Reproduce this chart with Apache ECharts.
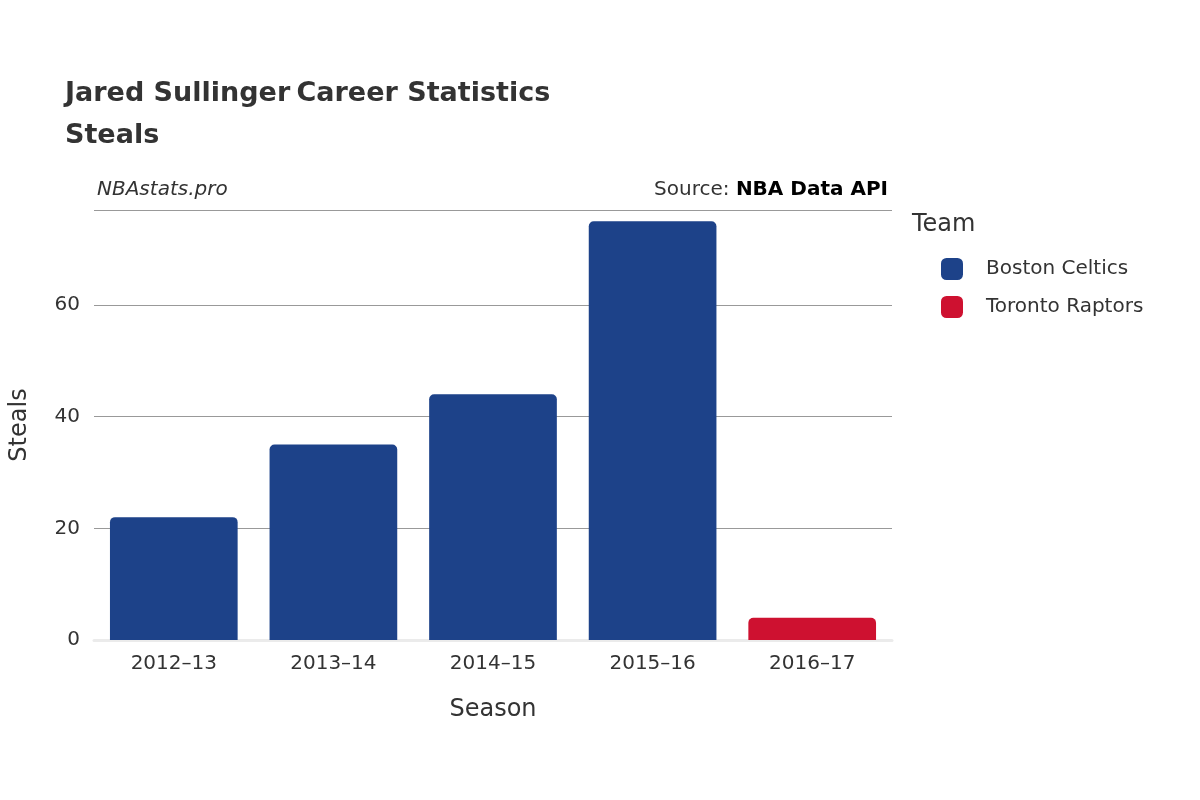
<!DOCTYPE html>
<html>
<head>
<meta charset="utf-8">
<script src="https://cdn.jsdelivr.net/npm/echarts@6/dist/echarts.min.js"></script>
<style>html,body{margin:0;padding:0;background:#fff}#chart{width:1200px;height:800px}</style>
</head>
<body>
<div id="chart"></div>
<script>
const seasons = ['2012–13', '2013–14', '2014–15', '2015–16', '2016–17']
const celtics = [22, 35, 44, 75, '-']
const raptors = ['-', '-', '-', '-', 4]
const yTicks = [0, 20, 40, 60]

const font = 'DejaVu Sans'
const txt = '#333333'

const chart = echarts.init(document.getElementById('chart'))
const option = {
  animation: false,
  textStyle: { fontFamily: font },
  title: {
    left: 60,
    top: 68,
    text: '{b|Jared Sullinger} {n|Career Statistics}\n{n|Steals}',
    textStyle: {
      rich: {
        b: { fontFamily: font, fontSize: 27, fontWeight: 'bold', color: txt, lineHeight: 42 },
        n: { fontFamily: font, fontSize: 27, color: txt, lineHeight: 42 }
      }
    }
  },
  graphic: [
    { type: 'text', left: 97, top: 180, style: { text: 'NBAstats.pro', font: 'italic 20px DejaVu Sans', fill: txt } },
    { type: 'text', right: 312, top: 180, style: { text: '{a|Source: }{b|NBA Data API}', rich: { a: { fontFamily: font, fontSize: 20, fill: txt, color: txt }, b: { fontFamily: font, fontSize: 20, fontWeight: 'bold', color: txt } } } },
    { type: 'text', left: 912, top: 213, style: { text: 'Team', font: '24px DejaVu Sans', fill: txt } }
  ],
  legend: {
    orient: 'vertical',
    left: 936,
    top: 253,
    itemWidth: 22,
    itemHeight: 22,
    itemGap: 16,
    icon: 'roundRect',
    textStyle: { fontFamily: font, fontSize: 20, color: txt, padding: [0, 0, 0, 18] },
    data: ['Boston Celtics', 'Toronto Raptors']
  },
  grid: { left: 92, right: 308, top: 210, bottom: 160 },
  xAxis: {
    type: 'category',
    data: seasons,
    name: 'Season',
    nameLocation: 'middle',
    nameGap: 58,
    nameTextStyle: { fontSize: 24, color: txt },
    axisLine: { show: true, lineStyle: { color: '#ebebeb', width: 3 } },
    axisTick: { show: false },
    axisLabel: { fontSize: 20, color: txt, margin: 14 }
  },
  yAxis: {
    type: 'value',
    min: 0,
    max: 77,
    interval: 20,
    name: 'Steals',
    nameLocation: 'middle',
    nameGap: 62,
    nameTextStyle: { fontSize: 24, color: txt },
    axisLine: { show: false },
    axisTick: { show: false },
    axisLabel: {
      fontSize: 20,
      color: txt,
      margin: 14,
      formatter: v => (yTicks.includes(v) ? String(v) : '')
    },
    splitLine: { lineStyle: { color: '#999999', width: 1 } }
  },
  series: [
    {
      name: 'Boston Celtics',
      type: 'bar',
      stack: 's',
      barWidth: '80%',
      itemStyle: { color: '#1d4289', borderRadius: [5, 5, 0, 0] },
      data: celtics
    },
    {
      name: 'Toronto Raptors',
      type: 'bar',
      stack: 's',
      barWidth: '80%',
      itemStyle: { color: '#ce1130', borderRadius: [5, 5, 0, 0] },
      data: raptors
    }
  ]
}
chart.setOption(option, true)
</script>
</body>
</html>
